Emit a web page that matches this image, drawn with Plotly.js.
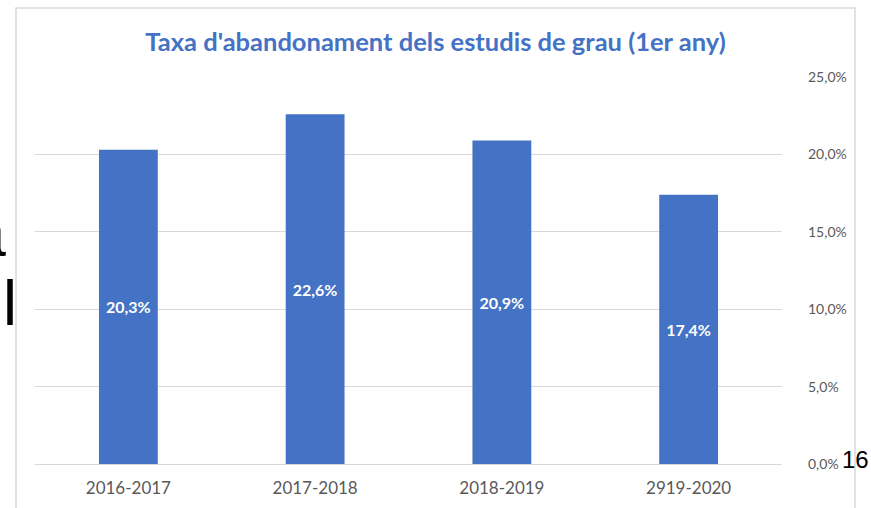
<!DOCTYPE html>
<html>
<head>
<meta charset="utf-8">
<script src="https://cdn.plot.ly/plotly-3.0.1.min.js"></script>
<style>
html,body{margin:0;padding:0;background:#fff;overflow:hidden;}
#chart{width:871px;height:508px;}
</style>
</head>
<body>
<div id="chart"></div>
<script>
const categories = ["2016-2017", "2017-2018", "2018-2019", "2919-2020"];
const values = [20.3, 22.6, 20.9, 17.4];
const valueLabels = ["20,3%", "22,6%", "20,9%", "17,4%"];
const yTickVals = [0, 5, 10, 15, 20, 25];
const yTickText = ["0,0%", "5,0%", "10,0%", "15,0%", "20,0%", "25,0%"];
const titleText = "Taxa d'abandonament dels estudis de grau (1er any)";

// plot area in pixels
const L = 35, R = 782, T = 77, B = 464;
const px = x => (x - L) / (R - L);
const py = y => (B - y) / (B - T);

const trace = {
  type: "bar",
  x: categories,
  y: values,
  text: valueLabels,
  textposition: "inside",
  insidetextanchor: "middle",
  textfont: {family: "Lato, 'Open Sans', sans-serif", size: 16, color: "#ffffff", weight: "bold"},
  marker: {color: "#4472C4", line: {width: 0}},
  hoverinfo: "none"
};

const layout = {
  width: 871, height: 508,
  margin: {l: L, r: 871 - R, t: T, b: 508 - B},
  paper_bgcolor: "#ffffff",
  plot_bgcolor: "#ffffff",
  showlegend: false,
  bargap: 0.685,
  title: {
    text: "<b>" + titleText + "</b>",
    font: {family: "Lato, 'Open Sans', sans-serif", size: 25.5, color: "#4472C4"},
    x: 0.5, xref: "container", xanchor: "center",
    y: 1 - 42 / 508, yref: "container", yanchor: "middle"
  },
  xaxis: {
    type: "category",
    showgrid: false, showline: false, zeroline: false,
    ticks: "",
    tickfont: {family: "Lato, 'Open Sans', sans-serif", size: 17, color: "#595959"},
    ticklabelstandoff: 12
  },
  yaxis: {
    side: "right",
    range: [0, 25],
    tickvals: yTickVals,
    ticktext: yTickText,
    showgrid: true, gridcolor: "#d9d9d9", gridwidth: 1,
    zeroline: true, zerolinecolor: "#d9d9d9", zerolinewidth: 1,
    showline: false, ticks: "",
    tickfont: {family: "Lato, 'Open Sans', sans-serif", size: 14, color: "#595959"},
    ticklabelstandoff: 25
  },
  shapes: [{
    type: "rect", xref: "paper", yref: "paper",
    x0: px(16), x1: px(855), y0: py(530), y1: py(8),
    line: {color: "#d9d9d9", width: 1.5}, fillcolor: "rgba(0,0,0,0)", layer: "below"
  }],
  annotations: [
    {text: "16", xref: "paper", yref: "paper", x: px(840), y: py(459), xanchor: "left", yanchor: "middle",
     showarrow: false, font: {family: "Arial, 'Liberation Sans', sans-serif", size: 24, color: "#000000"}},
    {text: "a", xref: "paper", yref: "paper", x: px(8), y: py(232), xanchor: "right", yanchor: "middle",
     showarrow: false, font: {family: "Arial, 'Liberation Sans', sans-serif", size: 68, color: "#000000"}},
    {text: "l", xref: "paper", yref: "paper", x: px(19), y: py(303), xanchor: "right", yanchor: "middle",
     showarrow: false, font: {family: "Arial, 'Liberation Sans', sans-serif", size: 63, color: "#000000"}}
  ]
};

Plotly.newPlot("chart", [trace], layout, {displayModeBar: false, staticPlot: true});
</script>
</body>
</html>
